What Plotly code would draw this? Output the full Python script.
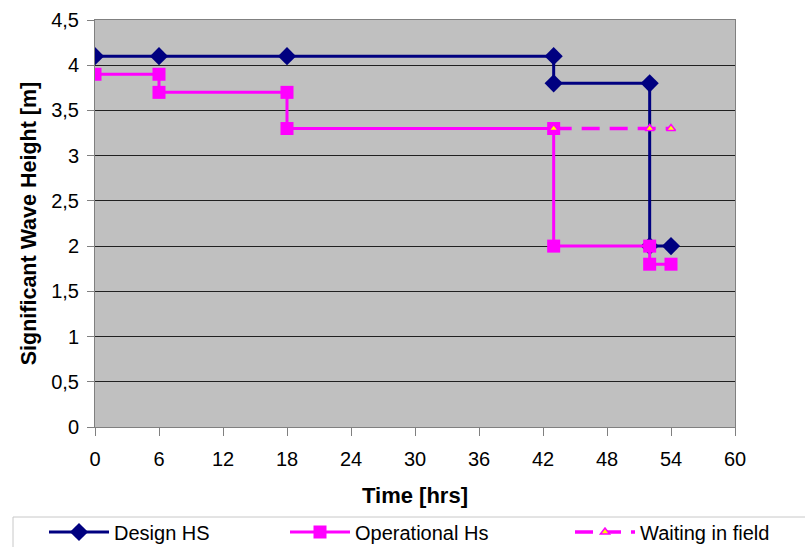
import plotly.graph_objects as go

design_t = [0, 6, 18, 43, 43, 52, 52, 54]
design_hs = [4.1, 4.1, 4.1, 4.1, 3.8, 3.8, 2.0, 2.0]

oper_t = [0, 6, 6, 18, 18, 43, 43, 52, 52, 54]
oper_hs = [3.9, 3.9, 3.7, 3.7, 3.3, 3.3, 2.0, 2.0, 1.8, 1.8]

wait_t = [43, 52, 54]
wait_hs = [3.3, 3.3, 3.3]

x_ticks = [0, 6, 12, 18, 24, 30, 36, 42, 48, 54, 60]
y_ticks = [0, 0.5, 1, 1.5, 2, 2.5, 3, 3.5, 4, 4.5]
y_labels = ["0", "0,5", "1", "1,5", "2", "2,5", "3", "3,5", "4", "4,5"]

W, H = 805, 547
L, R, T, B = 95, 735, 20, 427

fig = go.Figure()
fig.add_trace(go.Scatter(x=design_t, y=design_hs, name="Design HS", mode="lines+markers",
                         line=dict(color="#000080", width=3),
                         marker=dict(symbol="diamond", size=14, color="#000080"),
                         legend="legend"))
fig.add_trace(go.Scatter(x=oper_t, y=oper_hs, name="Operational Hs", mode="lines+markers",
                         line=dict(color="#FF00FF", width=3),
                         marker=dict(symbol="square", size=13, color="#FF00FF"),
                         legend="legend2"))
fig.add_trace(go.Scatter(x=wait_t, y=wait_hs, name="Waiting in field", mode="lines+markers",
                         line=dict(color="#FF00FF", width=3.5, dash="18px,10px"),
                         marker=dict(symbol="triangle-up", size=8, color="#FFFF00",
                                     line=dict(color="#FF00FF", width=1.5)),
                         legend="legend3"))

def leg(px):
    return dict(orientation="h", xref="container", yref="container",
                x=px / W, xanchor="left", y=1 - 532 / H, yanchor="middle",
                borderwidth=0, bgcolor="rgba(0,0,0,0)", font=dict(size=20),
                itemwidth=60)

fy0 = (B - 560) / (B - T)
fy1 = (B - 517) / (B - T)
fx0 = (13 - L) / (R - L)
fx1 = (820 - L) / (R - L)

fig.update_layout(
    width=W, height=H,
    margin=dict(l=L, r=W - R, t=T, b=H - B, autoexpand=False),
    paper_bgcolor="white",
    plot_bgcolor="#C0C0C0",
    font=dict(family="Liberation Sans, Arial, sans-serif", color="black", size=20),
    xaxis=dict(range=[0, 60], tickvals=x_ticks, showgrid=False, zeroline=False,
               showline=True, linecolor="#808080", linewidth=1, mirror=True,
               ticks="outside", ticklen=8, tickcolor="#808080", automargin=False,
               tickfont=dict(size=20), ticklabelstandoff=6,
               title=dict(text="<b>Time [hrs]</b>", font=dict(size=22), standoff=18)),
    yaxis=dict(range=[0, 4.5], tickvals=y_ticks, ticktext=y_labels,
               showgrid=True, gridcolor="#202020", gridwidth=1, zeroline=False,
               showline=True, linecolor="#808080", linewidth=1, mirror=True,
               ticks="outside", ticklen=7, tickcolor="#808080", automargin=False,
               tickfont=dict(size=20), ticklabelstandoff=4,
               title=dict(text="<b>Significant Wave Height [m]</b>", font=dict(size=21.5), standoff=8)),
    legend=leg(44),
    legend2=leg(285),
    legend3=leg(570),
    shapes=[dict(type="rect", xref="paper", yref="paper", x0=fx0, x1=fx1, y0=fy0, y1=fy1,
                 line=dict(color="#C8C8C8", width=1), fillcolor="rgba(0,0,0,0)", layer="above")],
    showlegend=True,
)

fig.write_html("out.html")
